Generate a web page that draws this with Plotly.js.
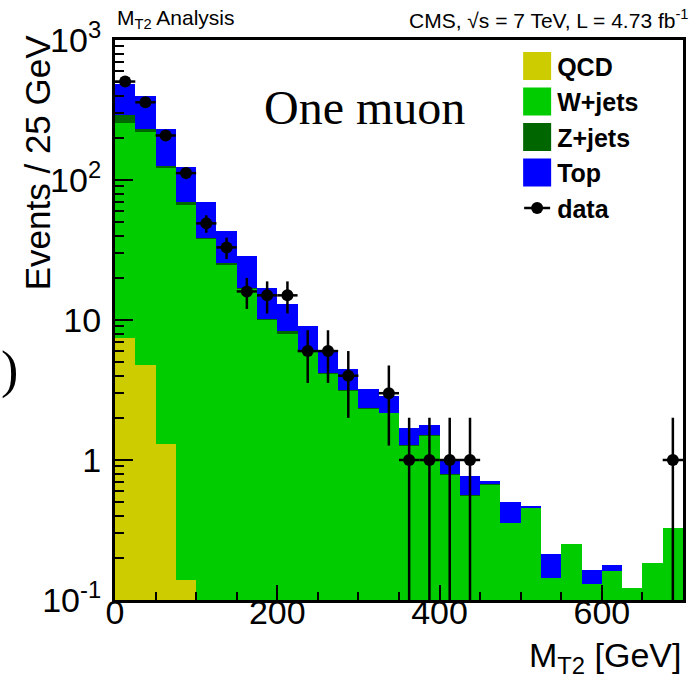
<!DOCTYPE html>
<html><head><meta charset="utf-8">
<script src="https://cdn.plot.ly/plotly-3.0.1.min.js"></script>
<style>html,body{margin:0;padding:0;background:#fff;} #chart{width:691px;height:679px;}</style>
</head><body><div id="chart"></div>
<script>
// M_T2 bin centres (25 GeV bins from 0 to 700 GeV)
const binCenters = [12.5, 37.5, 62.5, 87.5, 112.5, 137.5, 162.5, 187.5, 212.5, 237.5, 262.5, 287.5, 312.5, 337.5,
  362.5, 387.5, 412.5, 437.5, 462.5, 487.5, 512.5, 537.5, 562.5, 587.5, 612.5, 637.5, 662.5, 687.5];
const binWidth = 25;

const qcd   = [7.4, 4.8, 1.3, 0.14, 0, 0, 0, 0, 0, 0, 0, 0, 0, 0, 0, 0, 0, 0, 0, 0, 0, 0, 0, 0, 0, 0, 0, 0];
const wjets = [250, 215, 121, 66, 37.6, 24.8, 16.7, 10.0, 8.0, 5.95, 4.1, 3.1, 2.33, 2.15, 1.26, 1.49, 0.78, 0.55,
  0.665, 0.355, 0.455, 0.143, 0.251, 0.13, 0.16, 0.122, 0.184, 0.329];
const zjets = [34, 11, 4.5, 3.3, 1.1, 0.6, 0.2, 0.2, 0.36, 0.15, 0.06, 0.06, 0.03, 0.03, 0.02, 0.02, 0.014, 0.01,
  0.009, 0.001, 0.002, 0, 0, 0, 0.001, 0, 0, 0];
const topBkg = [194, 167, 103.5, 54.4, 30.9, 17.9, 11.8, 6.8, 4.6, 3.0, 1.94, 1.3, 0.85, 0.70, 0.42, 0.27, 0.226, 0.21,
  0.034, 0.143, 0.012, 0.07, 0, 0.034, 0.016, 0, 0, 0];
const dataCounts = [505, 359, 208, 112, 49, 33, 16, 15, 15, 6, 6, 4, 0, 3, 1, 1, 1, 1, 0, 0, 0, 0, 0, 0, 0, 0, 0, 1];

const yTickVals = [0.1, 1, 10, 100, 1000];
const yTickText = ['10<sup>-1</sup>', '1', '10', '10<sup>2</sup>', '10<sup>3</sup>'];

const bkg = [
  {name: 'QCD', y: qcd, color: '#cccc00'},
  {name: 'W+jets', y: wjets, color: '#00cc00'},
  {name: 'Z+jets', y: zjets, color: '#006600'},
  {name: 'Top', y: topBkg, color: '#0000ff'}
];

const traces = bkg.map(b => ({
  type: 'bar', name: b.name, x: binCenters, y: b.y, width: binWidth,
  marker: {color: b.color, line: {width: 0}}, legendgroup: b.name
}));

const dx = [], dy = [], de = [], dxe = [];
dataCounts.forEach((n, i) => {
  if (n > 0) { dx.push(binCenters[i]); dy.push(n); de.push(Math.sqrt(n)); dxe.push(binWidth / 2); }
});
traces.push({
  type: 'scatter', mode: 'markers', name: 'data', x: dx, y: dy, legendgroup: 'data',
  marker: {color: 'black', size: 12, symbol: 'circle'},
  error_y: {type: 'data', array: de, arrayminus: de, symmetric: false, color: 'black', thickness: 2.5, width: 0},
  error_x: {type: 'data', array: dxe, color: 'black', thickness: 2.5, width: 0}
});

const fontFam = 'Liberation Sans, Arial, Helvetica, sans-serif';
const layout = {
  width: 691, height: 679,
  margin: {l: 115, r: 8, t: 40, b: 79},
  paper_bgcolor: 'white', plot_bgcolor: 'white',
  barmode: 'stack', bargap: 0,
  font: {family: fontFam, color: 'black'},
  xaxis: {
    range: [0, 700], tickmode: 'linear', tick0: 0, dtick: 200,
    ticks: 'inside', ticklen: 15, tickwidth: 2, tickcolor: 'black',
    minor: {ticks: 'inside', dtick: 50, ticklen: 8, tickwidth: 2, tickcolor: 'black'},
    showline: true, linewidth: 3, linecolor: 'black', mirror: true,
    showgrid: false, zeroline: false,
    tickfont: {size: 34, family: fontFam}, ticklabelstandoff: -20
  },
  yaxis: {
    type: 'log', range: [-1, 3], tickmode: 'array', tickvals: yTickVals, ticktext: yTickText,
    ticks: 'inside', ticklen: 18, tickwidth: 2, tickcolor: 'black',
    minor: {ticks: 'inside', dtick: 'D1', ticklen: 9, tickwidth: 2, tickcolor: 'black'},
    showline: true, linewidth: 3, linecolor: 'black', mirror: true,
    showgrid: false, zeroline: false,
    tickfont: {size: 34, family: fontFam}, ticklabelstandoff: 4
  },
  showlegend: true,
  legend: {
    x: 0.708, y: 0.994, xanchor: 'left', yanchor: 'top', bgcolor: 'white', borderwidth: 0,
    font: {size: 25, family: fontFam, weight: 'bold'}, traceorder: 'grouped', tracegroupgap: 0,
    itemwidth: 30
  },
  annotations: [
    {xref: 'paper', yref: 'paper', x: 0, y: 1.037, xanchor: 'left', yanchor: 'middle', showarrow: false,
     text: 'M<sub>T2</sub> Analysis', font: {size: 21, family: fontFam}},
    {xref: 'paper', yref: 'paper', x: 1.012, y: 1.037, xanchor: 'right', yanchor: 'middle', showarrow: false,
     text: 'CMS, \u221As = 7 TeV, L = 4.73 fb<sup>-1</sup>', font: {size: 21, family: fontFam}},
    {xref: 'paper', yref: 'paper', x: 1, y: -0.103, xanchor: 'right', yanchor: 'middle', showarrow: false,
     text: 'M<sub>T2</sub> [GeV]', font: {size: 34, family: fontFam}},
    {xref: 'paper', yref: 'paper', x: -0.137, y: 0.782, xanchor: 'center', yanchor: 'middle', showarrow: false,
     textangle: -90, text: 'Events / 25 GeV', font: {size: 35, family: fontFam}},
    {xref: 'paper', yref: 'paper', x: 0.44, y: 0.880, xanchor: 'center', yanchor: 'middle', showarrow: false,
     text: 'One muon', font: {size: 48, family: 'Liberation Serif, Times New Roman, serif'}},
    {xref: 'paper', yref: 'paper', x: -0.185, y: 0.41, xanchor: 'center', yanchor: 'middle', showarrow: false,
     text: ')', font: {size: 52, family: 'Liberation Serif, Times New Roman, serif'}}
  ]
};

function fixLegend(gd) {
  gd.querySelectorAll('.legend .traces').forEach(tr => {
    const pts = tr.querySelector('.legendpoints');
    if (!pts) return;
    const marker = pts.querySelector('path.scatterpts');
    if (marker) {
      if (!pts.querySelector('.datalegline')) {
        const ln = document.createElementNS('http://www.w3.org/2000/svg', 'path');
        ln.setAttribute('class', 'datalegline');
        ln.setAttribute('d', 'M-13,0H13');
        const tf = marker.getAttribute('transform');
        if (tf) ln.setAttribute('transform', tf);
        ln.setAttribute('style', 'stroke:black;stroke-width:2.5px;fill:none');
        marker.parentNode.insertBefore(ln, marker);
      }
    } else {
      pts.querySelectorAll('path').forEach(p => p.setAttribute('d', 'M14,14H-14V-14H14Z'));
    }
  });
}

Plotly.newPlot('chart', traces, layout, {displayModeBar: false, staticPlot: true}).then(gd => {
  fixLegend(gd);
  gd.on('plotly_afterplot', () => fixLegend(gd));
  setTimeout(() => fixLegend(gd), 30);
});
</script>
</body></html>
